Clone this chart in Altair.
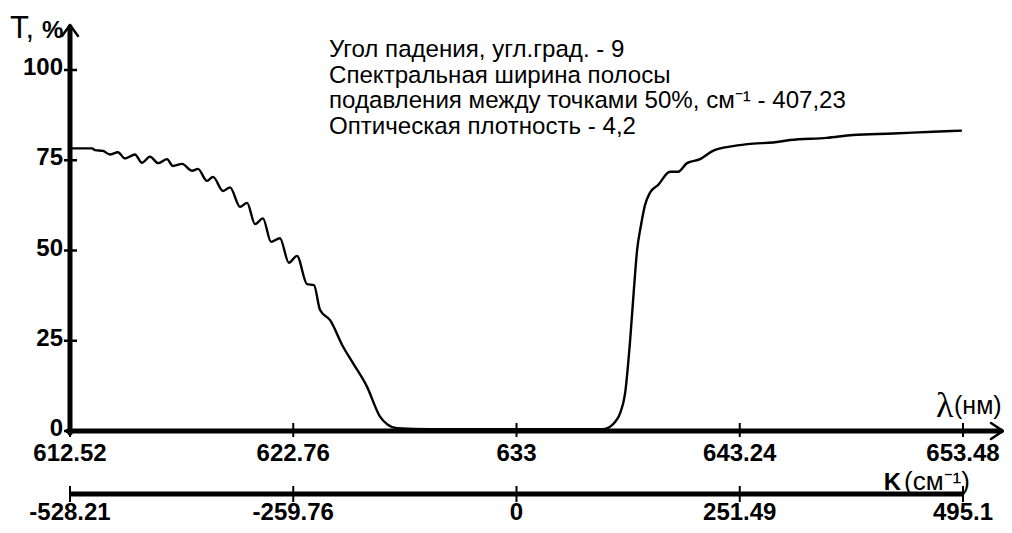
import altair as alt
import pandas as pd

# ---- data ----
wavelength = [612.52, 613.53, 613.67, 614.03, 614.35, 614.72, 615.04, 615.50, 615.82, 616.19,
              616.56, 616.97, 617.24, 617.66, 618.12, 618.39, 618.80, 619.08, 619.54, 619.86,
              620.32, 620.64, 621.01, 621.37, 621.74, 622.15, 622.56, 622.93, 623.39, 623.71,
              623.99, 624.45, 625.04, 625.50, 626.14, 626.74, 627.06, 627.52, 629.0, 633.0,
              636.8, 637.06, 637.29, 637.52, 637.75, 637.98, 638.21, 638.37, 638.53, 638.71,
              638.89, 639.12, 639.49, 640.04, 640.41, 640.82, 641.42, 642.01, 642.93, 643.85,
              644.77, 645.55, 647.24, 648.44, 650.27, 652.10, 653.43]
transmission = [78.3, 78.3, 77.8, 77.6, 76.6, 77.2, 75.5, 76.6, 74.3, 76.0,
                74.2, 75.3, 73.4, 74.0, 72.1, 72.6, 69.3, 70.4, 66.5, 67.5,
                62.1, 63.2, 57.3, 58.9, 52.4, 53.4, 46.6, 48.5, 40.7, 40.4,
                33.5, 30.7, 23.4, 18.8, 12.3, 4.0, 1.9, 0.8, 0.5, 0.5,
                0.5, 0.6, 1.2, 2.5, 4.9, 10.4, 25.0, 38.0, 50.0, 57.0,
                62.5, 66.0, 68.1, 71.8, 71.8, 74.2, 75.3, 77.6, 78.9, 79.6,
                79.9, 80.6, 81.2, 82.0, 82.4, 82.9, 83.2]

x_ticks = [612.52, 622.76, 633, 643.24, 653.48]
x_tick_labels = ["612.52", "622.76", "633", "643.24", "653.48"]
k_tick_labels = ["-528.21", "-259.76", "0", "251.49", "495.1"]
y_ticks = [0, 25, 50, 75, 100]
y_tick_labels = ["0", "25", "50", "75", "100"]

note_lines = ["Угол падения, угл.град. - 9",
              "Спектральная ширина полосы",
              "подавления между точками 50%, см⁻¹ - 407,23",
              "Оптическая плотность - 4,2"]

curve = pd.DataFrame({"lam": wavelength, "T": transmission})
xt = pd.DataFrame({"lam": x_ticks, "lab": x_tick_labels, "k": k_tick_labels})
yt = pd.DataFrame({"t": y_ticks, "lab": y_tick_labels})
kspan = pd.DataFrame({"a": [x_ticks[0]], "b": [x_ticks[-1]]})
one = pd.DataFrame({"d": [0]})

BOLD = "Liberation Sans, Arial, sans-serif"
SANS = "Liberation Sans, Arial, sans-serif"
TICK_SIZE = 24

xs = alt.Scale(domain=[612.52, 653.48], nice=False, zero=False)
ys = alt.Scale(domain=[0, 100], nice=False, zero=False)


def seg(x1, y1, x2, y2, w):
    return alt.Chart(one).mark_rule(color="black", strokeWidth=w, strokeCap="round").encode(
        x=alt.value(x1), y=alt.value(y1), x2=alt.value(x2), y2=alt.value(y2))


def label(txt, x, y, size, font=SANS, weight="normal", align="left"):
    return alt.Chart(one).mark_text(text=txt, font=font, fontSize=size, fontWeight=weight,
                                    align=align, baseline="alphabetic", color="black").encode(
        x=alt.value(x), y=alt.value(y))


line = alt.Chart(curve).mark_line(color="black", strokeWidth=2.4, interpolate="monotone").encode(
    x=alt.X("lam:Q", scale=xs, axis=None),
    y=alt.Y("T:Q", scale=ys, axis=None))

layers = [
    # axes lines and arrows
    seg(0, 363, 0, -43, 5),
    seg(0, -45, -8, -34, 2.5),
    seg(0, -45, 8, -34, 2.5),
    seg(-2, 361, 931, 361, 5),
    seg(933, 361, 921, 353, 2.5),
    seg(933, 361, 921, 369, 2.5),
    # x ticks
    alt.Chart(xt).mark_rule(color="black", strokeWidth=2).encode(
        x=alt.X("lam:Q", scale=xs, axis=None), y=alt.value(353), y2=alt.value(367)),
    alt.Chart(xt).mark_text(font=BOLD, fontSize=TICK_SIZE, fontWeight="bold", align="center",
                            baseline="alphabetic", color="black").encode(
        x=alt.X("lam:Q", scale=xs, axis=None), y=alt.value(391), text="lab:N"),
    # y ticks
    alt.Chart(yt).mark_rule(color="black", strokeWidth=2.5).encode(
        y=alt.Y("t:Q", scale=ys, axis=None), x=alt.value(-6), x2=alt.value(7)),
    alt.Chart(yt).mark_text(font=BOLD, fontSize=TICK_SIZE, fontWeight="bold", align="right",
                            baseline="middle", dy=-2, color="black").encode(
        y=alt.Y("t:Q", scale=ys, axis=None), x=alt.value(-7), text="lab:N"),
    # K axis
    alt.Chart(kspan).mark_rule(color="black", strokeWidth=5).encode(
        x=alt.X("a:Q", scale=xs, axis=None), x2="b:Q", y=alt.value(424)),
    alt.Chart(xt).mark_rule(color="black", strokeWidth=2).encode(
        x=alt.X("lam:Q", scale=xs, axis=None), y=alt.value(416), y2=alt.value(432)),
    alt.Chart(xt).mark_text(font=BOLD, fontSize=TICK_SIZE, fontWeight="bold", align="center",
                            baseline="alphabetic", color="black").encode(
        x=alt.X("lam:Q", scale=xs, axis=None), y=alt.value(450), text="k:N"),
    line,
    # axis titles
    label("T,", -60, -32, 31),
    label("%", -28, -32, 24, BOLD, "bold"),
    label("λ", 866, 347, 36, "Liberation Serif, DejaVu Serif, serif"),
    label("(нм)", 884, 344, 25),
    label("K", 831, 420, 24, BOLD, "bold", "right"),
    label("(см⁻¹)", 834, 420, 26),
]

baselines = [-13, 13, 38, 64]
for txt, b in zip(note_lines, baselines):
    layers.append(label(txt, 259, b, 24.1))

chart = alt.layer(*layers).properties(
    width=893, height=361,
    padding={"left": 62, "top": 62, "right": 41, "bottom": 94},
    autosize=alt.AutoSizeParams(type="none"),
).configure_view(stroke=None)

chart.save("out.html", embed_options={"renderer": "svg", "actions": False})
